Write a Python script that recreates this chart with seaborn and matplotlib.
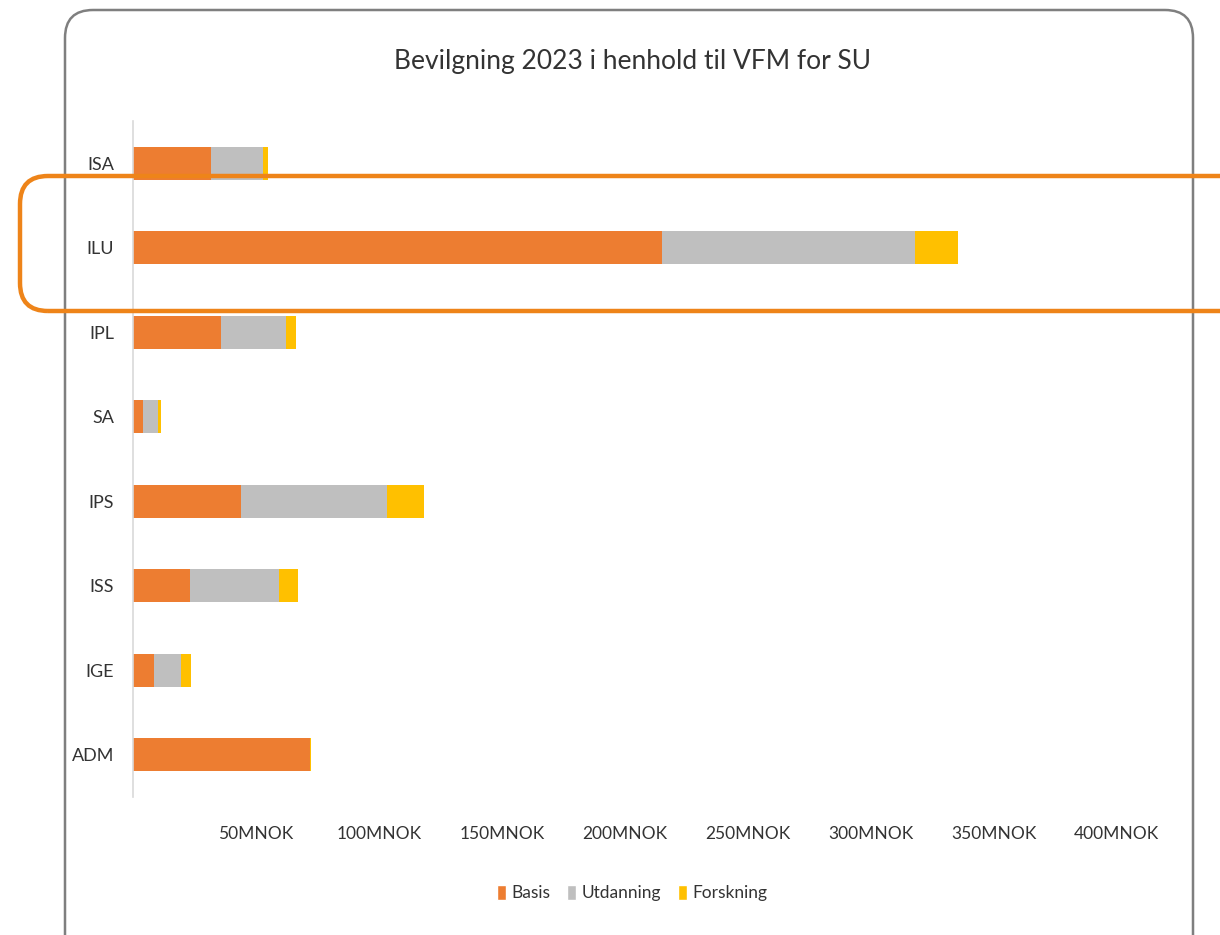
import matplotlib
matplotlib.use("Agg")
import matplotlib.pyplot as plt
import seaborn as sns
import pandas as pd
from matplotlib.patches import FancyBboxPatch, Patch
from matplotlib.transforms import IdentityTransform

# Data (MNOK)
categories = ["ISA", "ILU", "IPL", "SA", "IPS", "ISS", "IGE", "ADM"]
basis = [31.7, 215.0, 35.8, 4.1, 43.9, 23.2, 8.5, 72.0]
utdanning = [21.1, 102.8, 26.4, 6.1, 59.4, 36.2, 11.0, 0.0]
forskning = [2.0, 17.5, 4.1, 1.2, 15.0, 7.7, 4.1, 0.5]
tick_values = [50, 100, 150, 200, 250, 300, 350, 400]
tick_labels = ["50MNOK", "100MNOK", "150MNOK", "200MNOK", "250MNOK", "300MNOK", "350MNOK", "400MNOK"]

colors = {"Basis": "#ED7D31", "Utdanning": "#BFBFBF", "Forskning": "#FFC000"}

df = pd.DataFrame({"Avdeling": categories, "Basis": basis,
                   "Utdanning": utdanning, "Forskning": forskning})
df["c1"] = df["Basis"]
df["c2"] = df["Basis"] + df["Utdanning"]
df["c3"] = df["c2"] + df["Forskning"]

sns.set_style("white")
plt.rcParams["font.family"] = ["Lato", "DejaVu Sans"]
txt = "#333333"

fig = plt.figure(figsize=(12.2, 9.35), dpi=100)
ax = fig.add_axes([133 / 1220, 138 / 935, 1033 / 1220, 676 / 935])

# stacked bars: draw totals first, then overlay partial sums
for col, name in [("c3", "Forskning"), ("c2", "Utdanning"), ("c1", "Basis")]:
    sns.barplot(data=df, x=col, y="Avdeling", order=categories, orient="h",
                color=colors[name], width=0.39, ax=ax, saturation=1,
                edgecolor="none", linewidth=0)

ax.set_xlim(0, 420)
ax.set_xticks(tick_values)
ax.set_xticklabels(tick_labels, fontsize=12.5, color=txt)
ax.tick_params(axis="y", labelsize=13, labelcolor=txt, length=0, pad=13.5)
ax.tick_params(axis="x", length=0, pad=21)
ax.set_xlabel("")
ax.set_ylabel("")
for s in ["top", "right", "bottom"]:
    ax.spines[s].set_visible(False)
ax.spines["left"].set_color("#d9d9d9")
ax.spines["left"].set_linewidth(1.2)

fig.text(632 / 1220, 1 - 62 / 935, "Bevilgning 2023 i henhold til VFM for SU",
         ha="center", va="center", fontsize=19, color=txt)

handles = [Patch(facecolor=colors[n], label=n) for n in ["Basis", "Utdanning", "Forskning"]]
fig.legend(handles=handles, loc="center", bbox_to_anchor=(632 / 1220, 1 - 893 / 935),
           ncol=3, frameon=False, fontsize=12.5, handlelength=0.5, handleheight=1.0,
           handletextpad=0.3, columnspacing=1.0, labelcolor=txt)

# rounded chart border (pixel coordinates)
border = FancyBboxPatch((65, -60), 1193 - 65, 925 + 60,
                        boxstyle="round,pad=0,rounding_size=28",
                        transform=IdentityTransform(), fill=False,
                        edgecolor="#7f7f7f", linewidth=1.8, clip_on=False)
fig.patches.append(border)

# orange highlight around ILU
hl = FancyBboxPatch((20, 935 - 311), 1300, 311 - 176,
                    boxstyle="round,pad=0,rounding_size=28",
                    transform=IdentityTransform(), fill=False,
                    edgecolor="#EE8419", linewidth=3.2, clip_on=False)
fig.patches.append(hl)

fig.savefig("out.png", dpi=100)
